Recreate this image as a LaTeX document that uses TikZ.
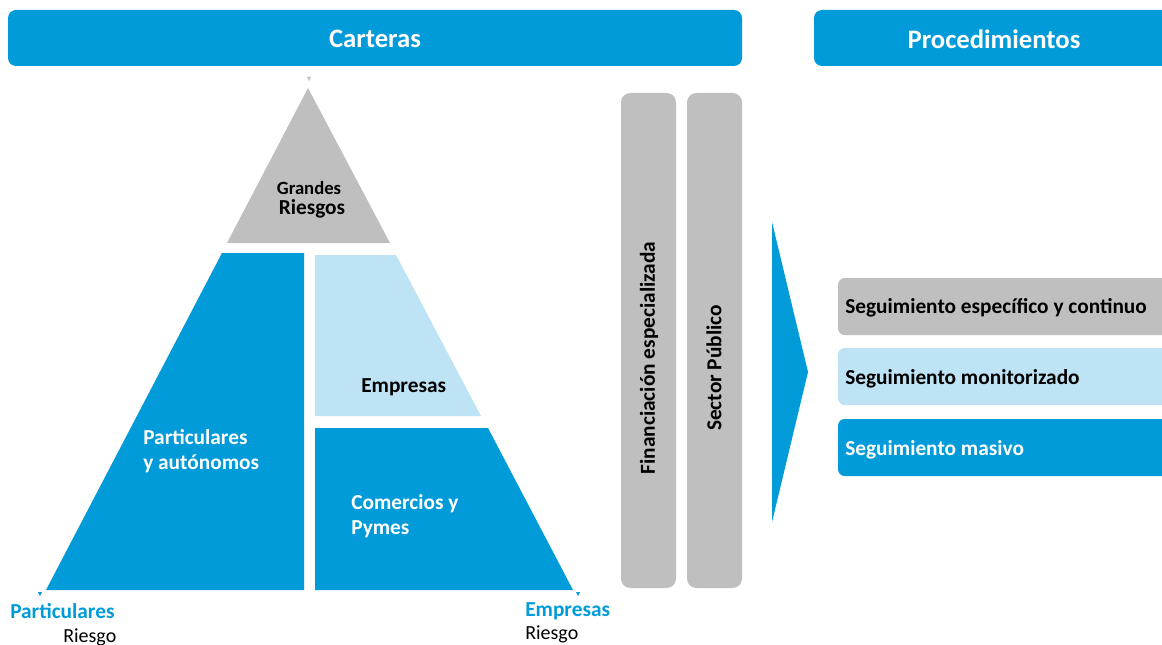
\documentclass[tikz,border=0pt]{standalone}
\usepackage{fontspec}
\setmainfont{Carlito}
\definecolor{cblue}{RGB}{0,155,216}
\definecolor{clight}{RGB}{189,227,244}
\definecolor{cgray}{RGB}{191,191,191}
\begin{document}
\begin{tikzpicture}[x=0.75pt,y=-0.75pt,
  banner/.style={fill=cblue,rounded corners=6pt},
  bannertext/.style={text=white,font=\bfseries\fontsize{20}{24}\selectfont},
  lbl/.style={font=\bfseries\fontsize{16}{19}\selectfont,align=left,anchor=west,inner sep=0pt},
  small/.style={anchor=west,inner sep=0pt,font=\fontsize{15}{18}\selectfont},
  bar/.style={fill=cgray,rounded corners=7pt},
  proc/.style={rounded corners=5pt},
  tick/.style={fill=cblue}]
\useasboundingbox (0,0) rectangle (1162,645);
\begin{scope}
\clip (0,0) rectangle (1162,645);
% banners
\fill[banner] (8,10) rectangle (742,66);
\node[bannertext] (cart) at (375,39) {Carteras};
\fill[banner] (814,10) rectangle (1175,66);
\node[bannertext] (proc) at (994,39) {Procedimientos};
% small ticks
\fill[cgray] (307,77) -- (311,77) -- (309,81) -- cycle;
\fill[tick] (38,592) -- (42,592) -- (40,596) -- cycle;
\fill[tick] (576,592) -- (580,592) -- (578,596) -- cycle;
% pyramid
\fill[cgray] (308,88) -- (390,243) -- (227,243) -- cycle;
\node[font=\bfseries\fontsize{14}{16}\selectfont] (gr1) at (309,188) {Grandes};
\node[font=\bfseries\fontsize{16}{19}\selectfont] (gr2) at (312,209) {Riesgos};
\fill[cblue] (222,253) -- (304,253) -- (304,590) -- (46,590) -- cycle;
\node[lbl,text=white] (part) at (143,451) {Particulares\\y autónomos};
\fill[clight] (315,255) -- (396,255) -- (481,416) -- (315,416) -- cycle;
\node[lbl] (emp) at (361,387) {Empresas};
\fill[cblue] (315,428) -- (488,428) -- (573,590) -- (315,590) -- cycle;
\node[lbl,text=white] (com) at (351,516) {Comercios y\\Pymes};
% bars
\fill[bar] (621,93) rectangle (676,588);
\node[lbl,anchor=center,rotate=90] (fin) at (649,358) {Financiación especializada};
\fill[bar] (687,93) rectangle (742,588);
\node[lbl,anchor=center,rotate=90] (sec) at (714,368) {Sector Público};
% chevron
\fill[cblue] (772,222) -- (808,372) -- (772,522) -- cycle;
% procedures
\fill[cgray,proc] (838,278) rectangle (1180,335);
\node[lbl] (s1) at (845,308) {Seguimiento específico y continuo};
\fill[clight,proc] (838,348) rectangle (1180,405);
\node[lbl] (s2) at (845,379) {Seguimiento monitorizado};
\fill[cblue,proc] (838,419) rectangle (1180,476);
\node[lbl,text=white] (s3) at (845,450) {Seguimiento masivo};
% axis labels
\node[lbl,text=cblue] (pl) at (10,611) {Particulares};
\node[small] (pr) at (63,637) {Riesgo};
\node[lbl,text=cblue] (el) at (525,611) {Empresas};
\node[small] (er) at (525,634) {Riesgo};
\end{scope}
\end{tikzpicture}
\end{document}
